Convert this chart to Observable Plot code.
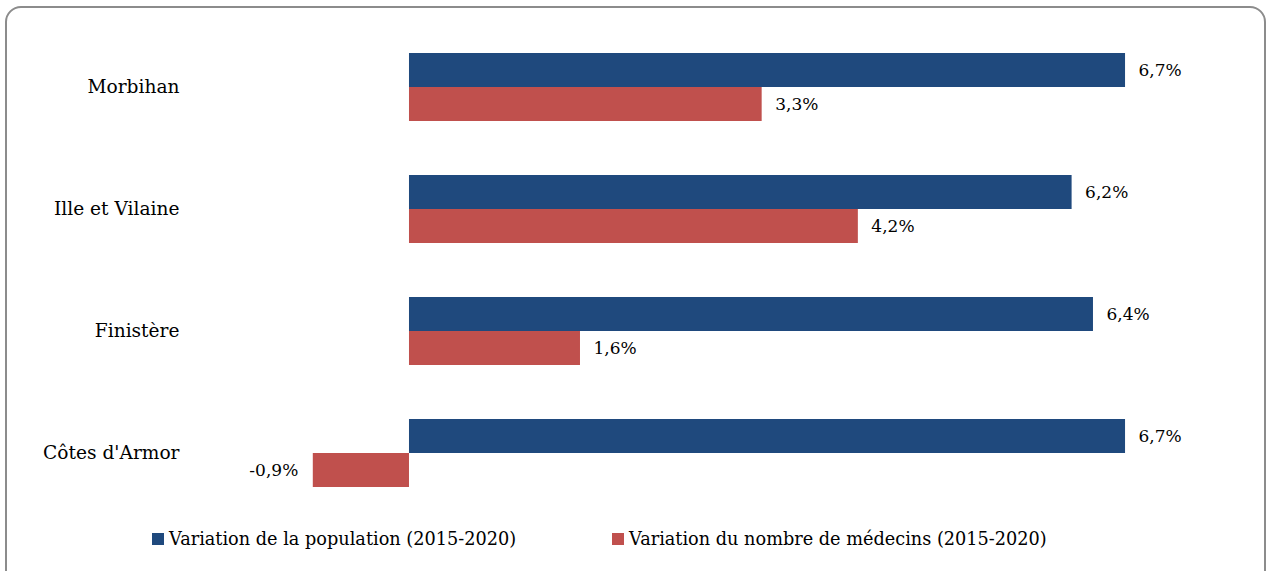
<!DOCTYPE html>
<html>
<head>
<meta charset="utf-8">
<script src="https://cdn.jsdelivr.net/npm/d3@7"></script>
<script src="https://cdn.jsdelivr.net/npm/@observablehq/plot@0.6"></script>
<style>
  body { margin: 0; background: #fff; }
  #wrap { position: relative; width: 1269px; height: 571px; overflow: hidden; font-family: "DejaVu Serif", "Liberation Serif", serif; }
  #frame { position: absolute; left: 5px; top: 6px; width: 1257px; height: 600px; border: 2px solid #8c8c8c; border-radius: 16px; }
  #chart { position: absolute; left: 0; top: 0; }
  #legend { position: absolute; top: 529px; left: 0; width: 1269px; font-size: 17.7px; color: #000; }
  .item { position: absolute; display: flex; align-items: center; white-space: nowrap; }
  .sw { width: 12px; height: 12px; margin-right: 5px; }
  #chart g[aria-label="fy-axis tick label"] text { font-size: 18.6px; }
</style>
</head>
<body>
<div id="wrap">
  <div id="frame"></div>
  <div id="chart"></div>
  <div id="legend"></div>
</div>
<script>
const categories = ["Morbihan", "Ille et Vilaine", "Finistère", "Côtes d'Armor"];
const seriesNames = ["Variation de la population (2015-2020)", "Variation du nombre de médecins (2015-2020)"];
const population = [6.7, 6.2, 6.4, 6.7];
const medecins = [3.3, 4.2, 1.6, -0.9];
const colors = ["#1F497D", "#C0504D"];

const data = [];
categories.forEach((c, i) => {
  data.push({cat: c, series: seriesNames[0], value: population[i]});
  data.push({cat: c, series: seriesNames[1], value: medecins[i]});
});
const fmt = v => v.toFixed(1).replace(".", ",") + "%";

const chart = Plot.plot({
  width: 1269,
  height: 520,
  marginLeft: 190,
  marginRight: 59,
  marginTop: 26,
  marginBottom: 6,
  style: {fontFamily: "DejaVu Serif, Liberation Serif, serif", fontSize: "17px", color: "#000", background: "transparent"},
  x: {domain: [-2.049, 7.495], axis: null},
  fy: {domain: categories, padding: 0, label: null, axis: "left", tickSize: 0, tickPadding: 11},
  y: {domain: seriesNames, paddingInner: 0, paddingOuter: 0.743, axis: null},
  color: {domain: seriesNames, range: colors},
  marks: [
    Plot.barX(data, {fy: "cat", y: "series", x: "value", fill: "series"}),
    Plot.text(data.filter(d => d.value >= 0), {fy: "cat", y: "series", x: "value", text: d => fmt(d.value), textAnchor: "start", dx: 13, fill: "#000"}),
    Plot.text(data.filter(d => d.value < 0), {fy: "cat", y: "series", x: "value", text: d => fmt(d.value), textAnchor: "end", dx: -15, fill: "#000"})
  ]
});
document.getElementById("chart").appendChild(chart);

const legend = document.getElementById("legend");
const lefts = [152, 612];
seriesNames.forEach((s, i) => {
  const it = document.createElement("div");
  it.className = "item";
  it.style.left = lefts[i] + "px";
  it.innerHTML = `<div class="sw" style="background:${colors[i]}"></div><span>${s}</span>`;
  legend.appendChild(it);
});
</script>
</body>
</html>
